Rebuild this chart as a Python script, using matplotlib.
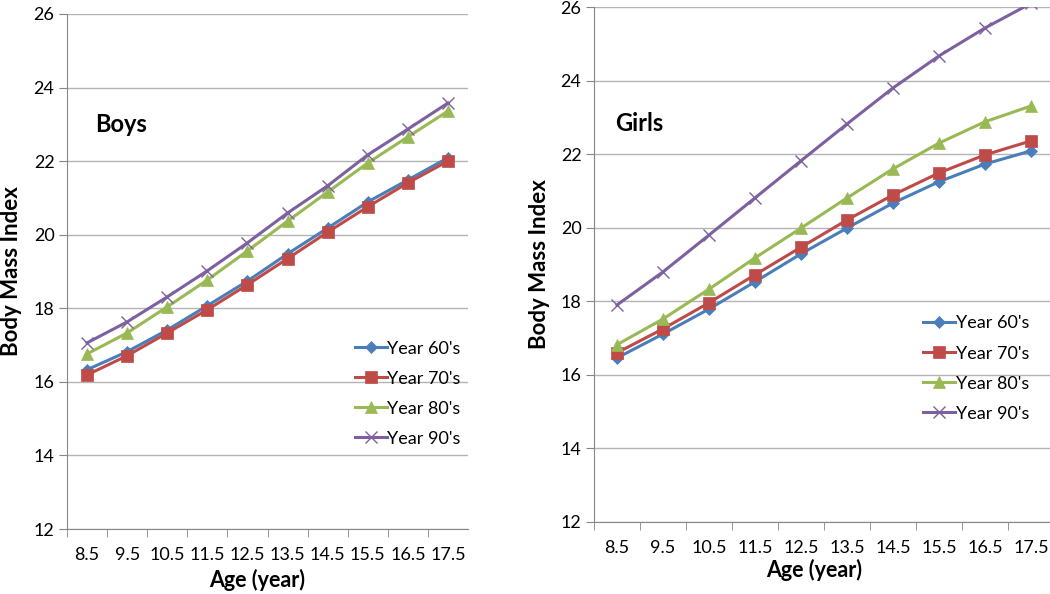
import numpy as np
import matplotlib.pyplot as plt

plt.rcParams['font.family'] = ['Lato', 'DejaVu Sans']

ages = ['8.5', '9.5', '10.5', '11.5', '12.5', '13.5', '14.5', '15.5', '16.5', '17.5']
labels = ["Year 60's", "Year 70's", "Year 80's", "Year 90's"]

boys_60 = [16.33, 16.82, 17.41, 18.07, 18.74, 19.48, 20.18, 20.89, 21.49, 22.09]
boys_70 = [16.19, 16.71, 17.33, 17.96, 18.64, 19.35, 20.07, 20.76, 21.41, 22.00]
boys_80 = [16.76, 17.33, 18.04, 18.77, 19.56, 20.37, 21.16, 21.95, 22.66, 23.36]
boys_90 = [17.06, 17.63, 18.31, 19.02, 19.78, 20.59, 21.33, 22.17, 22.87, 23.58]

girls_60 = [16.46, 17.11, 17.79, 18.53, 19.29, 19.99, 20.67, 21.25, 21.73, 22.09]
girls_70 = [16.60, 17.25, 17.96, 18.72, 19.47, 20.21, 20.89, 21.49, 21.98, 22.36]
girls_80 = [16.82, 17.52, 18.33, 19.18, 19.99, 20.81, 21.60, 22.30, 22.88, 23.31]
girls_90 = [17.90, 18.80, 19.80, 20.81, 21.82, 22.82, 23.80, 24.67, 25.43, 26.10]

colors = ['#4A7EBB', '#BE4B48', '#98B954', '#7D60A0']
markers = ['D', 's', '^', 'x']
msizes = [6, 8, 8, 8]

fig = plt.figure(figsize=(10.5, 5.94), dpi=100)
W, H = 1050, 594


def panel(rect, series, title, title_xy, legend_xy, xlabel_y, ylabel_x):
    l, t, r, b = rect
    ax = fig.add_axes([l / W, 1 - b / H, (r - l) / W, (b - t) / H])
    x = np.arange(len(ages))
    for vals, c, m, ms, lab in zip(series, colors, markers, msizes, labels):
        ax.plot(x, vals, color=c, marker=m, markersize=ms, lw=2.2, label=lab,
                markeredgewidth=1.0 if m == 'x' else 0.5)
    ax.set_xlim(-0.5, 9.5)
    ax.set_ylim(12, 26)
    ax.set_yticks(np.arange(12, 27, 2))
    ax.set_xticks(x)
    ax.set_xticklabels(ages)
    ax.set_xticks(np.arange(-0.5, 9.5, 1), minor=True)
    ax.tick_params(axis='x', which='major', length=0, labelsize=13, pad=13)
    ax.tick_params(axis='x', which='minor', length=6, color='#868686', direction='out')
    ax.tick_params(axis='y', length=6, color='#868686', labelsize=13, pad=3)
    ax.grid(axis='y', color='#b3b3b3', lw=1)
    ax.set_axisbelow(True)
    for s in ['top', 'right']:
        ax.spines[s].set_visible(False)
    for s in ['left', 'bottom']:
        ax.spines[s].set_color('#868686')
    ax.text(title_xy[0], title_xy[1], title, transform=ax.transAxes,
            fontsize=17, fontweight='bold', va='center')
    ax.legend(loc='upper left', bbox_to_anchor=legend_xy, frameon=False,
              fontsize=13, handlelength=1.75, labelspacing=0.78, handletextpad=0.05,
              borderaxespad=0)
    fig.text(((l + r) / 2 - 10) / W, 1 - xlabel_y / H, 'Age (year)', ha='center',
             va='center', fontsize=15.5, fontweight='bold')
    fig.text(ylabel_x / W, 1 - ((t + b) / 2) / H, 'Body Mass Index', rotation=90,
             ha='center', va='center', fontsize=16, fontweight='bold')
    return ax


panel((67, 14, 468, 529), [boys_60, boys_70, boys_80, boys_90], 'Boys',
      (0.07, 0.785), (0.70, 0.38), 580, 12)
panel((594, 7, 1054, 522), [girls_60, girls_70, girls_80, girls_90], 'Girls',
      (0.045, 0.773), (0.70, 0.415), 570, 540)

fig.savefig('out.png', dpi=100)
